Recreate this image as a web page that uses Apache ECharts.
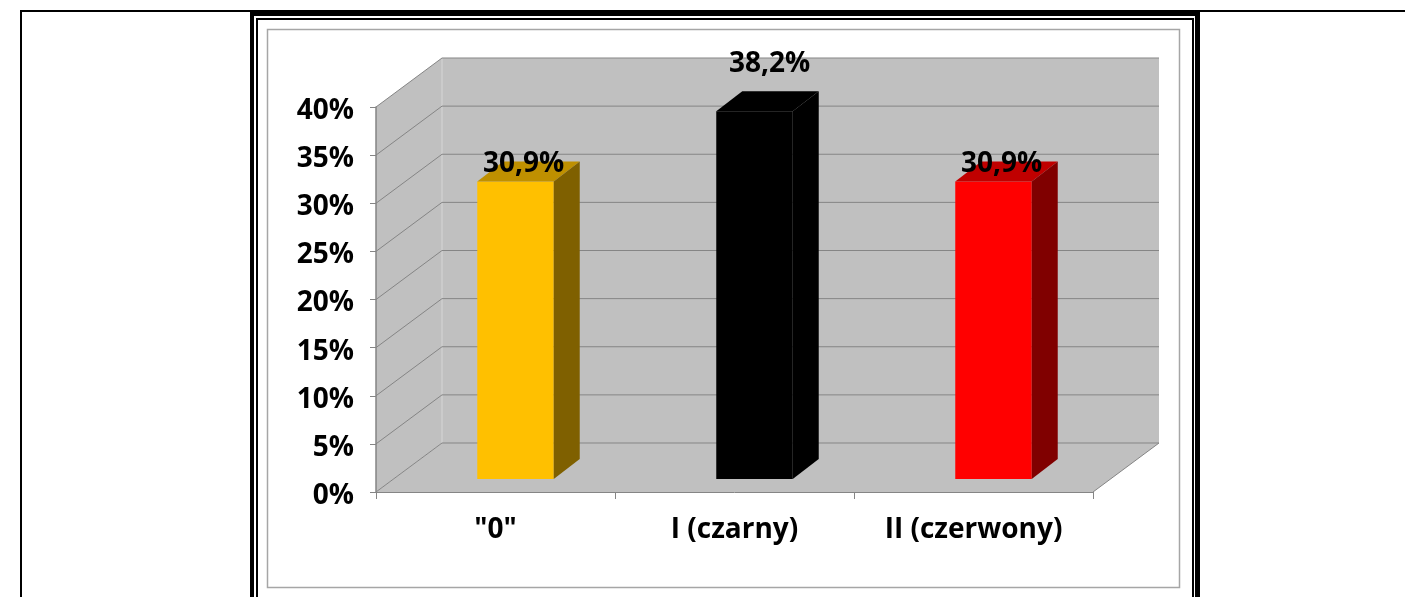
<!DOCTYPE html>
<html>
<head>
<meta charset="utf-8">
<script src="https://cdn.jsdelivr.net/npm/echarts@6/dist/echarts.min.js"></script>
<style>
  html, body { margin: 0; padding: 0; background: #fff; }
  #chart { width: 1405px; height: 597px; }
</style>
</head>
<body>
<div id="chart"></div>
<script>
// ---- data ----
const categories = ['"0"', 'I (czarny)', 'II (czerwony)'];
const values = [0.309, 0.382, 0.309];
const yMin = 0;
const yMax = 0.4;
const yStep = 0.05;

// ---- styles ----
const frontColors = ['#ffc000', '#000000', '#ff0000'];
const topColors = ['#bf9000', '#000000', '#c00000'];
const sideColors = ['#7f6000', '#000000', '#800000'];
const labelShiftX = [8, 15, 8];
const labelShiftY = [-18, -47, -18];

const WALL = '#c0c0c0';
const GRID = '#858585';
const FONT = '"Open Sans", "Noto Sans", sans-serif';
const wallDx = 66, wallDy = -49;       // depth of the 3D box
const barFx = 20, barFy = -13;          // bar front plane offset
const barDx = 26, barDy = -20;          // bar depth
const barFrac = 0.32;

function fmtPct(v) { return (v * 100).toFixed(1).replace('.', ',') + '%'; }

const chart = echarts.init(document.getElementById('chart'), null, { renderer: 'canvas' });

const ticks = [];
for (let k = 0; yMin + k * yStep <= yMax + 1e-9; k++) ticks.push(yMin + k * yStep);

const option = {
  animation: false,
  backgroundColor: '#ffffff',
  graphic: [
    { type: 'rect', shape: { x: 20, y: 10, width: 1385, height: 2 }, style: { fill: '#000' }, z: 100 },
    { type: 'rect', shape: { x: 20, y: 10, width: 2, height: 587 }, style: { fill: '#000' }, z: 100 },
    { type: 'rect', shape: { x: 250, y: 10, width: 950, height: 6 }, style: { fill: '#000' }, z: 100 },
    { type: 'rect', shape: { x: 250, y: 10, width: 4, height: 587 }, style: { fill: '#000' }, z: 100 },
    { type: 'rect', shape: { x: 1195, y: 10, width: 5, height: 587 }, style: { fill: '#000' }, z: 100 },
    { type: 'rect', shape: { x: 256, y: 18, width: 938, height: 2 }, style: { fill: '#000' }, z: 100 },
    { type: 'rect', shape: { x: 256, y: 18, width: 2, height: 579 }, style: { fill: '#000' }, z: 100 },
    { type: 'rect', shape: { x: 1192, y: 18, width: 2, height: 579 }, style: { fill: '#000' }, z: 100 },
    { type: 'rect', shape: { x: 267.5, y: 29.5, width: 912, height: 558 }, style: { fill: null, stroke: '#a6a6a6', lineWidth: 1.5 }, z: 100 }
  ],
  grid: { left: 376, right: 312, top: 107, bottom: 105, containLabel: false },
  xAxis: {
    type: 'category',
    data: categories,
    z: 5,
    axisLine: { show: true, lineStyle: { color: GRID, width: 1 } },
    axisTick: { show: true, alignWithLabel: false, interval: 0, length: 7, lineStyle: { color: GRID } },
    axisLabel: { interval: 0, margin: 24, color: '#000', fontFamily: FONT, fontWeight: 'bold', fontSize: 28 },
    splitLine: { show: false }
  },
  yAxis: {
    type: 'value',
    min: yMin, max: yMax, interval: yStep,
    z: 5,
    axisLine: { show: true, lineStyle: { color: GRID, width: 1.5 } },
    axisTick: { show: true, length: 6, lineStyle: { color: GRID } },
    axisLabel: {
      margin: 22, color: '#000', fontFamily: FONT, fontWeight: 'bold', fontSize: 28,
      formatter: v => '{p|' + Math.round(v * 100) + '%}',
      rich: { p: { fontFamily: FONT, fontWeight: 'bold', fontSize: 28, color: '#000', padding: [8, 0, 0, 0] } }
    },
    splitLine: { show: false }
  },
  series: [
    {
      type: 'custom',
      name: 'walls',
      silent: true,
      clip: false,
      data: [[0, 0]],
      renderItem: function (params, api) {
        const n = categories.length;
        const bw = api.size([1, 0])[0];
        const x0 = api.coord([0, yMin])[0] - bw / 2;
        const x1 = api.coord([n - 1, yMin])[0] + bw / 2;
        const y0 = api.coord([0, yMin])[1];
        const yT = api.coord([0, yMax])[1];
        const children = [];
        children.push({ type: 'polygon', shape: { points: [[x0 + wallDx, yT + wallDy], [x1 + wallDx, yT + wallDy], [x1 + wallDx, y0 + wallDy], [x0 + wallDx, y0 + wallDy]] }, style: { fill: WALL } });
        children.push({ type: 'polygon', shape: { points: [[x0, yT], [x0 + wallDx, yT + wallDy], [x0 + wallDx, y0 + wallDy], [x0, y0]] }, style: { fill: WALL } });
        children.push({ type: 'polygon', shape: { points: [[x0, y0], [x1, y0], [x1 + wallDx, y0 + wallDy], [x0 + wallDx, y0 + wallDy]] }, style: { fill: WALL } });
        children.push({ type: 'line', shape: { x1: x0 + wallDx, y1: yT + wallDy, x2: x0 + wallDx, y2: y0 + wallDy }, style: { stroke: '#d6d6d6', lineWidth: 1 } });
        ticks.forEach(function (v) {
          const y = api.coord([0, v])[1];
          children.push({ type: 'line', shape: { x1: x0, y1: y, x2: x0 + wallDx, y2: y + wallDy }, style: { stroke: GRID, lineWidth: 1 } });
          children.push({ type: 'line', shape: { x1: x0 + wallDx, y1: y + wallDy, x2: x1 + wallDx, y2: y + wallDy }, style: { stroke: GRID, lineWidth: 1 } });
        });
        children.push({ type: 'line', shape: { x1: x1, y1: y0, x2: x1 + wallDx, y2: y0 + wallDy }, style: { stroke: GRID, lineWidth: 1 } });
        return { type: 'group', children: children };
      }
    },
    {
      type: 'custom',
      name: 'bars',
      clip: false,
      data: values.map((v, i) => [i, v]),
      renderItem: function (params, api) {
        const i = api.value(0);
        const v = api.value(1);
        const base = api.coord([i, 0]);
        const top = api.coord([i, v]);
        const w = api.size([1, 0])[0] * barFrac;
        const xl = base[0] + barFx - w / 2;
        const xr = xl + w;
        const yb = base[1] + barFy;
        const yt = top[1] + barFy;
        return {
          type: 'group',
          children: [
            { type: 'rect', shape: { x: xl, y: yt, width: w, height: yb - yt }, style: { fill: frontColors[i] } },
            { type: 'polygon', shape: { points: [[xl, yt], [xr, yt], [xr + barDx, yt + barDy], [xl + barDx, yt + barDy]] }, style: { fill: topColors[i] } },
            { type: 'polygon', shape: { points: [[xr, yt], [xr + barDx, yt + barDy], [xr + barDx, yb + barDy], [xr, yb]] }, style: { fill: sideColors[i] } },
            { type: 'text', x: base[0] + barFx + labelShiftX[i], y: yt + labelShiftY[i], style: { text: fmtPct(v), fill: '#000', font: 'bold 28px ' + FONT, align: 'center', verticalAlign: 'middle' }, z2: 10 }
          ]
        };
      }
    }
  ]
};
chart.setOption(option);
</script>
</body>
</html>
